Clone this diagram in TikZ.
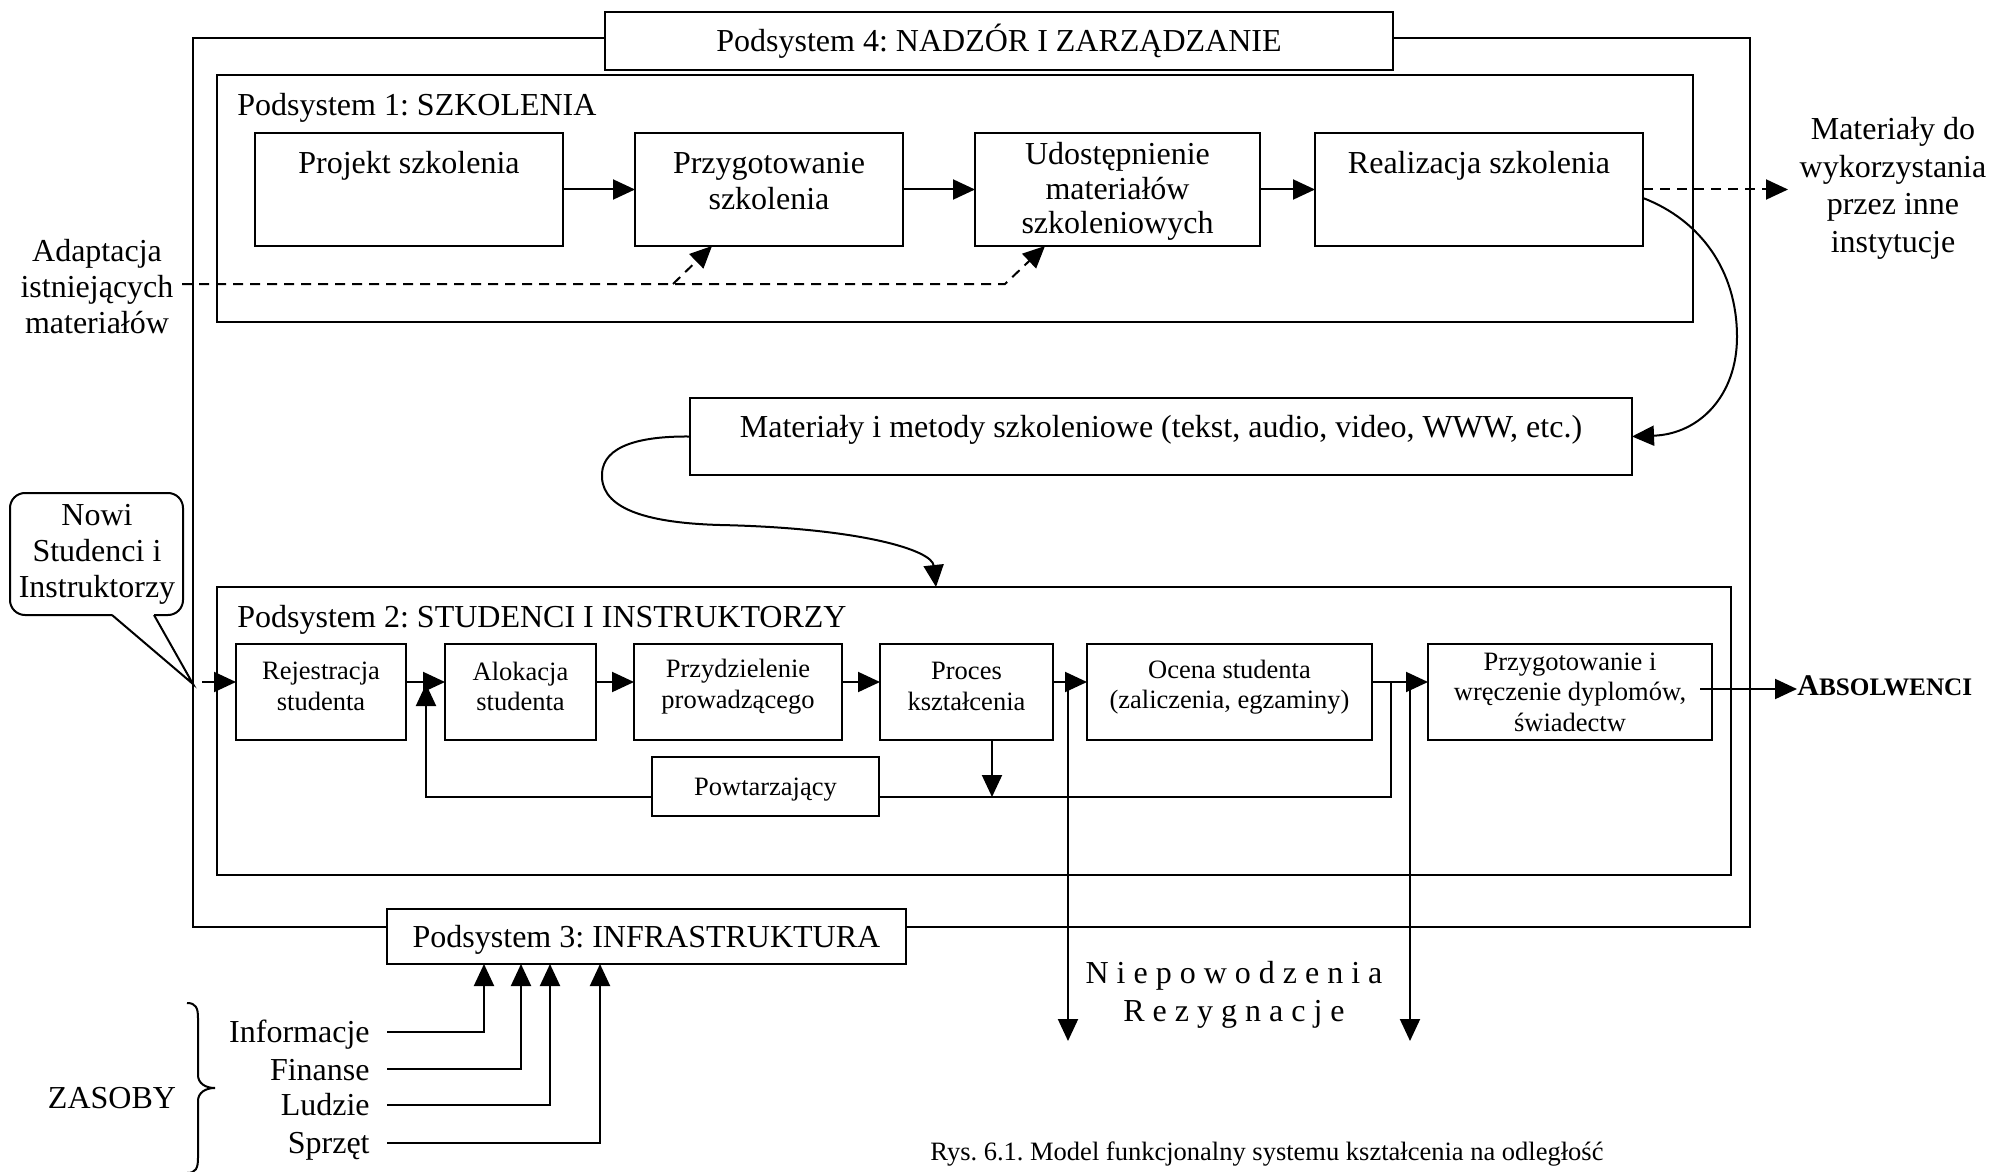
\documentclass[tikz,border=0pt]{standalone}
\usepackage{fontspec}
\setmainfont{Liberation Serif}
\usetikzlibrary{arrows.meta}
\def\ls{\kern4pt}
\frenchspacing
\begin{document}
\begin{tikzpicture}[x=0.5pt,y=-0.5pt,
 bx/.style={draw, fill=white, line width=1pt, inner sep=0pt, outer sep=0pt},
 ln/.style={line width=1pt},
 arr/.style={line width=1pt, -{Triangle[length=11pt,width=10pt]}},
 dsh/.style={dash pattern=on 5pt off 3.5pt},
 tm/.style={font=\fontsize{16}{18}\selectfont, inner sep=0pt},
 ts/.style={font=\fontsize{13.25}{15.3}\selectfont, inner sep=0pt},
 ml/.style={align=center}]

\useasboundingbox (0,0) rectangle (1993,1172);

% frames
\node[bx, fill=none, minimum width=778.5pt, minimum height=444.5pt] (outer) at (971.5,482.5) {};
\node[bx, minimum width=738pt, minimum height=123.5pt] (p1) at (955,198.5) {};
\node[bx, minimum width=757pt, minimum height=144pt] (p2) at (974,731) {};
\node[bx, minimum width=394pt, minimum height=29pt] (p4) at (999,41) {};
\node[bx, minimum width=259.5pt, minimum height=27.5pt] (p3) at (646.5,936.5) {};

% subsystem 1 boxes
\node[bx, minimum width=154pt, minimum height=56.5pt] (proj) at (409,189.5) {};
\node[bx, minimum width=134pt, minimum height=56.5pt] (przyg) at (769,189.5) {};
\node[bx, minimum width=142.5pt, minimum height=56.5pt] (udo) at (1117.5,189.5) {};
\node[bx, minimum width=164pt, minimum height=56.5pt] (real) at (1479,189.5) {};
\node[bx, minimum width=471pt, minimum height=38.5pt] (mat) at (1161,436.5) {};

% subsystem 2 boxes
\node[bx, minimum width=85pt, minimum height=48pt] (rej) at (321,692) {};
\node[bx, minimum width=75.5pt, minimum height=48pt] (alo) at (520.5,692) {};
\node[bx, minimum width=104pt, minimum height=48pt] (prz) at (738,692) {};
\node[bx, minimum width=86.5pt, minimum height=48pt] (pro) at (966.5,692) {};
\node[bx, minimum width=142.5pt, minimum height=48pt] (oce) at (1229.5,692) {};
\node[bx, minimum width=142pt, minimum height=48pt] (dyp) at (1570,692) {};
\node[bx, minimum width=113.5pt, minimum height=29.5pt] (pow) at (765.5,786.5) {};

% texts
\node[tm, anchor=base] (p4t) at (999,51.6) {Podsystem 4: NADZÓR I ZARZĄDZANIE};
\node[tm, anchor=base west] (p1t) at (237,115.6) {Podsystem 1: SZKOLENIA};
\node[tm, anchor=base] (projt) at (409,173.6) {Projekt szkolenia};
\node[tm, ml] (przygt) at (769,181) {Przygotowanie\\szkolenia};
\node[tm, ml, font=\fontsize{16}{17.25}\selectfont] (udot) at (1117.5,191.5) {Udostępnienie\\materiałów\\szkoleniowych};
\node[tm, anchor=base] (realt) at (1479,173.6) {Realizacja szkolenia};
\node[tm, ml, font=\fontsize{16}{18.8}\selectfont] (mdo) at (1893,188.5) {Materiały do\\wykorzystania\\przez inne\\instytucje};
\node[tm, ml] (adapt) at (97,287) {Adaptacja\\istniejących\\materiałów};
\node[tm, anchor=base] (matt) at (1161,437.6) {Materiały i metody szkoleniowe (tekst, audio, video, WWW, etc.)};
\node[tm, ml] (nowi) at (97,554) {Nowi\\Studenci i\\Instruktorzy};
\node[tm, anchor=base west] (p2t) at (237,627.6) {Podsystem 2: STUDENCI I INSTRUKTORZY};
\node[ts, ml] (rejt) at (321,686.5) {Rejestracja\\studenta};
\node[ts, ml] (alot) at (520.5,686.5) {Alokacja\\studenta};
\node[ts, ml] (przt) at (738,686.5) {Przydzielenie\\prowadzącego};
\node[ts, ml] (prot) at (966.5,686.5) {Proces\\kształcenia};
\node[ts, ml] (ocet) at (1229.5,687) {Ocena studenta\\(zaliczenia, egzaminy)};
\node[ts, ml] (dypt) at (1570,692) {Przygotowanie i\\wręczenie dyplomów,\\świadectw};
\node[ts, anchor=base] (powt) at (765.5,795) {Powtarzający};
\node[tm, anchor=base] (p3t) at (646.5,947.6) {Podsystem 3: INFRASTRUKTURA};
\node[tm, ml, font=\fontsize{16}{19}\selectfont] (niep) at (1234,995)
  {N\ls i\ls e\ls p\ls o\ls w\ls o\ls d\ls z\ls e\ls n\ls i\ls a\\R\ls e\ls z\ls y\ls g\ls n\ls a\ls c\ls j\ls e};
\node[tm, anchor=base west, font=\bfseries] (absol) at (1797,695)
  {\fontsize{15}{18}\selectfont A\fontsize{12.6}{15}\selectfont BSOLWENCI};
\node[tm, anchor=base east] (inf) at (370,1042.6) {Informacje};
\node[tm, anchor=base east] (fin) at (370,1080.6) {Finanse};
\node[tm, anchor=base east] (lud) at (370,1115.6) {Ludzie};
\node[tm, anchor=base east] (spr) at (370,1153.6) {Sprzęt};
\node[tm, anchor=base] (zas) at (112,1108.6) {ZASOBY};
\node[ts, anchor=base west] (cap) at (930,1160) {Rys. 6.1. Model funkcjonalny systemu kształcenia na odległość};

% callout
\draw[ln, rounded corners=7.5pt] (112,615) -- (10,615) -- (10,493) -- (183,493) -- (183,615) -- (154,615);
\draw[ln, line join=miter] (112,615) -- (193,684) -- (154,615);

% brace
\draw[ln] (187,1003) .. controls (196,1003) and (198,1008) .. (198,1018) -- (198,1075)
  .. controls (198,1083) and (205,1088) .. (215,1088)
  .. controls (205,1088) and (198,1093) .. (198,1101) -- (198,1158)
  .. controls (198,1168) and (196,1173) .. (187,1173);

% subsystem 1 connectors
\draw[arr] (proj) -- (przyg);
\draw[arr] (przyg) -- (udo);
\draw[arr] (udo) -- (real);
\coordinate (mdoin) at (1788,189.5);
\draw[arr, dsh] (real.east) -- (mdoin);
\coordinate (a0) at (182,284);
\coordinate (a1) at (673,284);
\coordinate (a2) at (1005,284);
\draw[arr, dsh] (a0) -- (a2) -- ([xshift=-36.25pt]udo.south);
\draw[arr, dsh] (a1) -- ([xshift=-28.5pt]przyg.south);

% curved connectors
\draw[arr] ([yshift=-4.25pt]real.east) .. controls (1700,220) and (1737,270) .. (1737,337)
  .. controls (1737,395) and (1700,434) .. (mat.east);
\draw[arr] (mat.west) .. controls (630,436) and (600,450) .. (602,478)
  .. controls (604,510) and (650,523) .. (720,525)
  .. controls (860,528) and (932,550) .. ([xshift=-19pt]p2.north);

% subsystem 2 connectors
\coordinate (nin) at (202,682);
\draw[arr] (nin) -- ([yshift=5pt]rej.west);
\draw[arr] ([yshift=5pt]rej.east) -- ([yshift=5pt]alo.west);
\draw[arr] ([yshift=5pt]alo.east) -- ([yshift=5pt]prz.west);
\draw[arr] ([yshift=5pt]prz.east) -- ([yshift=5pt]pro.west);
\draw[arr] ([yshift=5pt]pro.east) -- ([yshift=5pt]oce.west);
\draw[arr] ([yshift=5pt]oce.east) -- ([yshift=5pt]dyp.west);
\coordinate (j2) at (1391,682);
\draw[ln] (j2) |- ([yshift=-5.25pt]pow.east);
\coordinate (j1) at (426,684);
\draw[arr] ([yshift=-5.25pt]pow.west) -| (j1);
\draw[arr] ([xshift=12.75pt]pro.south) -- ++(0,57);
\coordinate (j3) at (1068,682);
\coordinate (f1) at (1068,1041);
\draw[arr] (j3) -- (f1);
\coordinate (j4) at (1410,682);
\coordinate (f2) at (1410,1041);
\draw[arr] (j4) -- (f2);
\coordinate (ab0) at (1700,689);
\coordinate (ab1) at (1797,689);
\draw[arr] (ab0) -- (ab1);

% resources
\coordinate (r1) at (387,1032);
\coordinate (r2) at (387,1069);
\coordinate (r3) at (387,1105);
\coordinate (r4) at (387,1143);
\draw[arr] (r1) -| ([xshift=-81.25pt]p3.south);
\draw[arr] (r2) -| ([xshift=-62.75pt]p3.south);
\draw[arr] (r3) -| ([xshift=-48.25pt]p3.south);
\draw[arr] (r4) -| ([xshift=-23.25pt]p3.south);
\end{tikzpicture}
\end{document}
